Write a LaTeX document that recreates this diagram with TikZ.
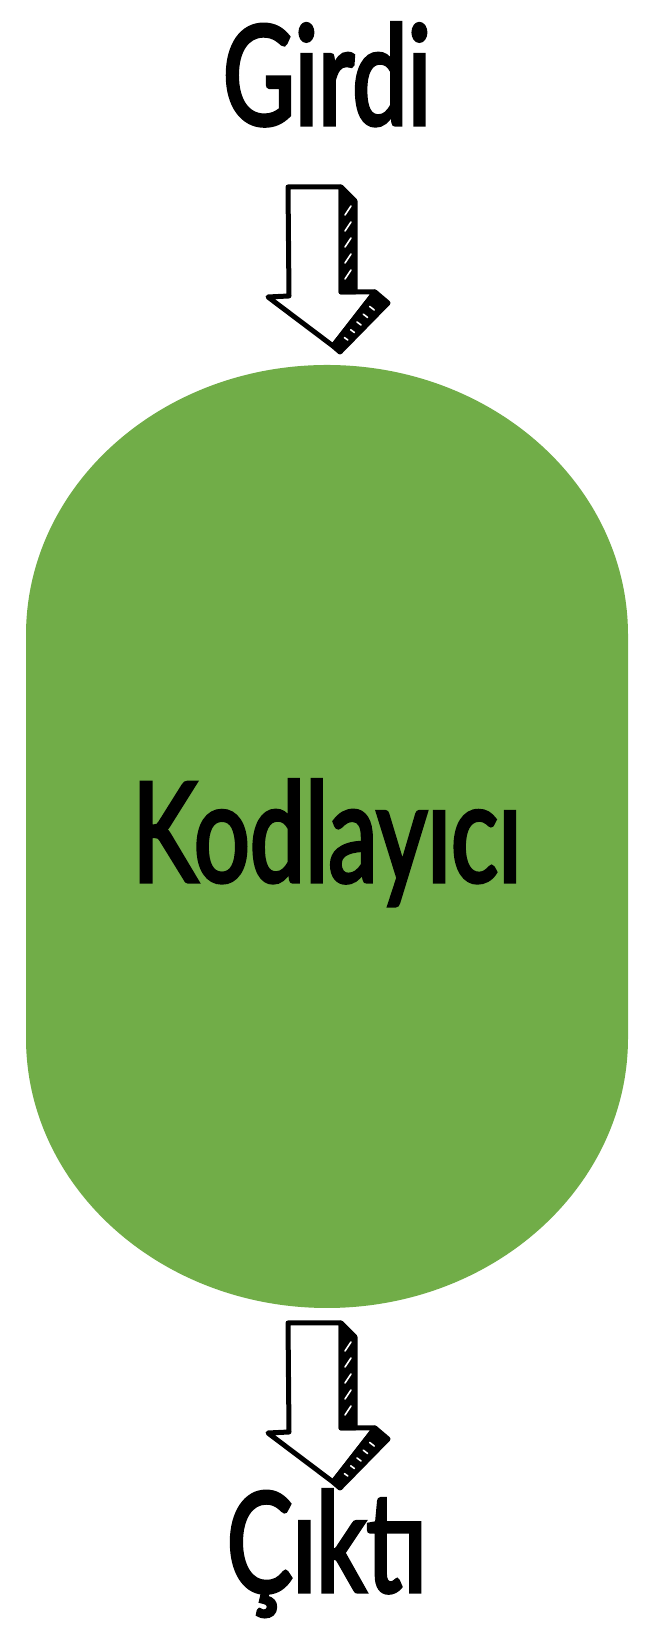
\documentclass[tikz,border=0pt]{standalone}
\usepackage{fontspec}
\usepackage{tikz}
\usetikzlibrary{calc}
\newfontfamily\elyazi{Lato}[FakeStretch=0.71, FakeBold=2.5]
\definecolor{kodyesil}{RGB}{113,173,72}

\begin{document}
\begin{tikzpicture}[x=1pt,y=1pt,
    etiket/.style={font=\elyazi\fontsize{139}{145}\selectfont, inner sep=0pt, anchor=base},
    kalin/.style={line width=5pt, line join=round, line cap=round},
    tarama/.style={white, line width=1.6pt, line cap=round},
    blokok/.pic={
      % on yuz
      \filldraw[kalin, fill=white] (-39,0) -- (14,0) -- (14,-105) -- (48,-105) -- (6,-159) -- (-59,-110) -- (-38,-109) -- cycle;
      % yan yuzler
      \filldraw[kalin] (14,0) -- (28,-14) -- (28,-105) -- (14,-105) -- cycle;
      \filldraw[kalin] (48,-105) -- (61,-116) -- (13,-165) -- (6,-159) -- cycle;
      \foreach \y in {-28,-44,...,-92}
        \draw[tarama] (18,\y) -- (24,\y+9);
      \foreach \t in {0.2,0.35,...,0.85}
        \draw[tarama] ($(51,-109)!\t!(9,-161)$) -- ($(56,-113)!\t!(12,-163)$);
    }]
      \fill[white] (0,0) rectangle (656,1632);
      \useasboundingbox (0,0) rectangle (656,1632);
      % kodlayici govdesi
      \fill[kodyesil] (26,997) arc[start angle=180, end angle=0, x radius=301, y radius=270]
        -- (628,594) arc[start angle=0, end angle=-180, x radius=301, y radius=270] -- cycle;
      \coordinate (kodust) at (327,1267);
      \coordinate (kodalt) at (327,324);
      \node[etiket] (girdi) at (327,1507) {Girdi};
      \node[etiket] (kod) at (327,750) {Kodlayıcı};
      \node[etiket] (cikti) at (327,40) {Çıktı};
      % oklar
      \pic at ([yshift=-62]girdi.base) {blokok};
      \pic at ([yshift=-15]kodalt) {blokok};
\end{tikzpicture}
\end{document}
